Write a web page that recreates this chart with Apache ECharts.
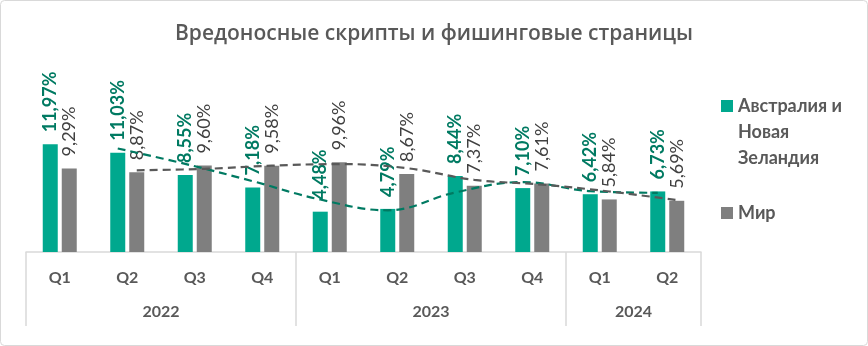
<!DOCTYPE html>
<html>
<head>
<meta charset="utf-8">
<script src="https://cdn.jsdelivr.net/npm/echarts@6/dist/echarts.min.js"></script>
<style>
  html, body { margin: 0; padding: 0; background: #ffffff; }
  #chart { width: 868px; height: 346px; }
</style>
</head>
<body>
<div id="chart"></div>
<script>
// Quarter labels and their year groups
const quarters = ['Q1', 'Q2', 'Q3', 'Q4', 'Q1', 'Q2', 'Q3', 'Q4', 'Q1', 'Q2'];
const years = ['2022', '2023', '2024'];
const yearSpans = [4, 4, 2];

// Share of users hit by malicious scripts and phishing pages, %
const anzValues = [11.97, 11.03, 8.55, 7.18, 4.48, 4.79, 8.44, 7.10, 6.42, 6.73];
const worldValues = [9.29, 8.87, 9.60, 9.58, 9.96, 8.67, 7.37, 7.61, 5.84, 5.69];

const seriesNames = ['Австралия и Новая Зеландия', 'Мир'];

const FONT = 'Lato, "Open Sans", sans-serif';
const GREEN = '#00A88E';
const GREEN_DARK = '#007A62';
const GREY = '#7F7F7F';
const TEXT = '#595959';

const gridLeft = 26, gridWidth = 675;
const barWidth = 15, barGapPx = 4;
const catPx = gridWidth / quarters.length;
// horizontal offset of each bar centre from its category centre, in category units
const barShift = (barWidth + barGapPx) / 2 / catPx;

// two-period moving average trend, as drawn by the spreadsheet trendline
function movingAverage(values) {
  const out = [];
  for (let i = 1; i < values.length; i++) out.push((values[i - 1] + values[i]) / 2);
  return out;
}

function trendPoints(values, shift) {
  return movingAverage(values).map((v, k) => [k + 1 + 0.5 + shift, v]);
}

// year group boundaries and centres on a 0..n scale
const yearBounds = [0];
const yearCentres = [];
yearSpans.forEach(s => {
  const start = yearBounds[yearBounds.length - 1];
  yearCentres.push(start + s / 2);
  yearBounds.push(start + s);
});

const fmt = v => v.toFixed(2).replace('.', ',') + '%';

// legend markers: a 12px square inside a 12x78 box (tiny corner dots fix the box),
// placed at the first text line or at the middle line
const LEGEND_BOX = 78;
const markerTop = 'path://M0,7h12v12h-12z M0,0h0.01v0.01h-0.01z M0,77.99h0.01v0.01h-0.01z';
const markerMid = 'path://M0,33h12v12h-12z M0,0h0.01v0.01h-0.01z M0,77.99h0.01v0.01h-0.01z';

const chart = echarts.init(document.getElementById('chart'), null, { renderer: 'canvas' });

chart.setOption({
  backgroundColor: '#ffffff',
  animation: false,
  title: {
    text: 'Вредоносные скрипты и фишинговые страницы',
    left: 'center',
    top: 19,
    textStyle: { fontFamily: '"Open Sans", sans-serif', fontSize: 21, fontWeight: 600, color: TEXT }
  },
  graphic: [{
    type: 'rect',
    shape: { x: 0.5, y: 0.5, width: 867, height: 345, r: 4 },
    style: { fill: 'none', stroke: '#D9D9D9', lineWidth: 1 },
    silent: true
  }],
  legend: {
    orient: 'vertical',
    left: 716,
    top: 88,
    itemWidth: 12,
    itemHeight: LEGEND_BOX,
    itemGap: 3,
    data: [
      { name: seriesNames[0], icon: markerTop },
      { name: seriesNames[1], icon: markerMid }
    ],
    formatter: name => name === seriesNames[0] ? 'Австралия и\nНовая\nЗеландия' : name,
    textStyle: { fontFamily: FONT, fontSize: 18, fontWeight: 'bold', color: TEXT, lineHeight: 26 }
  },
  grid: { left: gridLeft, width: gridWidth, top: 126, bottom: 94 },
  xAxis: [{
    type: 'category',
    data: quarters,
    position: 'bottom',
    axisLine: { show: true, lineStyle: { color: '#D9D9D9', width: 1.5 } },
    axisTick: { show: false },
    axisLabel: { fontFamily: FONT, fontSize: 16, fontWeight: 'bold', color: TEXT, margin: 18 }
  }, {
    type: 'value',
    min: 0,
    max: quarters.length,
    position: 'bottom',
    axisLine: { show: false },
    splitLine: { show: false },
    axisTick: {
      show: true,
      customValues: yearBounds,
      length: 74,
      lineStyle: { color: '#D9D9D9', width: 1.5 }
    },
    axisLabel: {
      customValues: yearCentres,
      formatter: v => years[yearCentres.indexOf(v)] || '',
      fontFamily: FONT, fontSize: 16, fontWeight: 'bold', color: TEXT, margin: 52
    }
  }],
  yAxis: {
    type: 'value',
    min: 0,
    max: 14,
    show: false,
    splitLine: { show: false }
  },
  series: [{
    name: seriesNames[0],
    type: 'bar',
    data: anzValues,
    barWidth: barWidth,
    barGap: (barGapPx / barWidth * 100) + '%',
    itemStyle: { color: GREEN },
    label: {
      show: true,
      position: 'top',
      rotate: 90,
      align: 'left',
      verticalAlign: 'middle',
      distance: 12,
      formatter: p => fmt(p.value),
      fontFamily: FONT, fontSize: 18, fontWeight: 'bold', color: GREEN_DARK
    }
  }, {
    name: seriesNames[1],
    type: 'bar',
    data: worldValues,
    barWidth: barWidth,
    itemStyle: { color: GREY },
    label: {
      show: true,
      position: 'top',
      rotate: 90,
      align: 'left',
      verticalAlign: 'middle',
      distance: 12,
      formatter: p => fmt(p.value),
      fontFamily: FONT, fontSize: 18, color: '#404040'
    }
  }, {
    name: 'trend-anz',
    type: 'line',
    xAxisIndex: 1,
    data: trendPoints(anzValues, -barShift),
    smooth: 0.4,
    symbol: 'none',
    lineStyle: { color: GREEN_DARK, width: 2.2, type: [8, 5] },
    z: 5
  }, {
    name: 'trend-world',
    type: 'line',
    xAxisIndex: 1,
    data: trendPoints(worldValues, barShift),
    smooth: 0.4,
    symbol: 'none',
    lineStyle: { color: '#595959', width: 2.2, type: [8, 5] },
    z: 5
  }]
});
</script>
</body>
</html>
